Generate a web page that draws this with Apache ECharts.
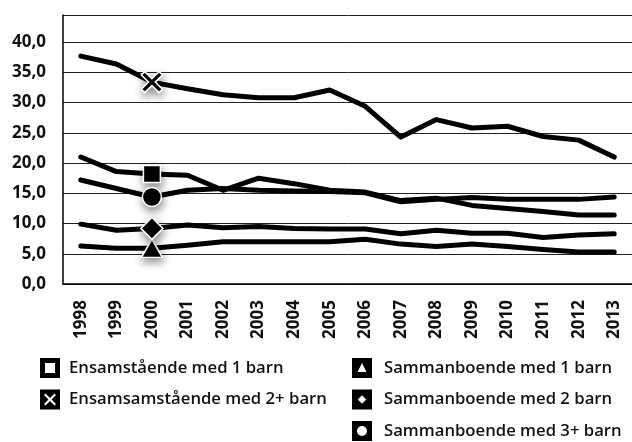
<!DOCTYPE html>
<html>
<head>
<meta charset="utf-8">
<script src="https://cdn.jsdelivr.net/npm/echarts@6/dist/echarts.min.js"></script>
<style>
html,body{margin:0;padding:0;background:#fff;}
#chart{width:632px;height:442px;}
</style>
</head>
<body>
<div id="chart"></div>
<script>
// ---- data ----
var years = ['1998','1999','2000','2001','2002','2003','2004','2005','2006','2007','2008','2009','2010','2011','2012','2013'];
var seriesNames = ['Ensamstående med 1 barn','Ensamsamstående med 2+ barn','Sammanboende med 1 barn','Sammanboende med 2 barn','Sammanboende med 3+ barn'];
var ens1 = [21.0, 18.6, 18.2, 18.0, 15.5, 17.5, 16.6, 15.5, 15.2, 13.8, 14.2, 13.0, 12.5, 12.0, 11.4, 11.4];
var ens2 = [37.7, 36.4, 33.4, 32.3, 31.3, 30.8, 30.8, 32.1, 29.4, 24.3, 27.2, 25.8, 26.1, 24.4, 23.8, 21.0];
var sam1 = [6.3, 5.9, 5.9, 6.4, 7.0, 7.0, 7.0, 7.0, 7.4, 6.6, 6.2, 6.6, 6.2, 5.7, 5.3, 5.3];
var sam2 = [9.9, 8.9, 9.2, 9.75, 9.3, 9.5, 9.2, 9.1, 9.1, 8.3, 8.9, 8.4, 8.4, 7.7, 8.1, 8.3];
var sam3 = [17.2, 15.8, 14.4, 15.5, 15.8, 15.5, 15.4, 15.3, 15.1, 13.6, 14.0, 14.3, 14.0, 14.0, 14.0, 14.4];
var markerIndex = 2; // markers shown at year 2000

// ---- styles ----
var xPath = 'path://M0,3.2 L3.2,0 L10,6.8 L16.8,0 L20,3.2 L13.2,10 L20,16.8 L16.8,20 L10,13.2 L3.2,20 L0,16.8 L6.8,10 Z';
var markers = [
  {symbol:'rect', size:[17,17]},
  {symbol:xPath, size:[21,21]},
  {symbol:'triangle', size:[21,18]},
  {symbol:'diamond', size:[22,22]},
  {symbol:'circle', size:[19,19]}
];
var box = 'M0,0 H20 V20 H0 Z ';
var legendIcons = [
  'path://' + box + 'M5,5 V15 H15 V5 Z',
  'path://' + box + 'M4,5.5 L8.5,10 L4,14.5 L5.5,16 L10,11.5 L14.5,16 L16,14.5 L11.5,10 L16,5.5 L14.5,4 L10,8.5 L5.5,4 Z',
  'path://' + box + 'M10,5 L5.5,14 L14.5,14 Z',
  'path://' + box + 'M10,5.8 L5.8,10 L10,14.2 L14.2,10 Z',
  'path://' + box + 'M15,10 A5,5 0 1,0 5,10 A5,5 0 1,0 15,10 Z'
];
var allData = [ens1, ens2, sam1, sam2, sam3];

function buildSeries(i){
  var d = allData[i].map(function(v, k){
    if (k === markerIndex) {
      return {value: v, symbol: markers[i].symbol, symbolSize: markers[i].size,
        itemStyle: {color:'#000', borderColor:'#fff', borderWidth:1.5,
          shadowBlur:8, shadowColor:'rgba(0,0,0,0.45)', shadowOffsetX:1, shadowOffsetY:4}};
    }
    return {value: v, symbol: 'none'};
  });
  return {
    name: seriesNames[i], type:'line', data: d, showSymbol: true, symbol:'none',
    lineStyle:{color:'#000', width:5, join:'round', cap:'round'},
    itemStyle:{color:'#000'},
    z: 2, animation:false, silent:true,
    emphasis:{disabled:true}
  };
}

var textFont = '"Open Sans", "DejaVu Sans", sans-serif';
var chart = echarts.init(document.getElementById('chart'), null, {renderer:'canvas'});
chart.setOption({
  animation:false,
  backgroundColor:'#fff',
  grid:{left:63, top:15, width:579.2, height:269, containLabel:false},
  xAxis:{
    type:'category', data: years, boundaryGap:true,
    axisLine:{show:true, lineStyle:{color:'#000', width:1.5}},
    axisTick:{show:false},
    axisLabel:{rotate:90, margin:16, color:'#111', fontSize:17, fontWeight:'bold', fontFamily:textFont, interval:0}
  },
  yAxis:{
    type:'value', min:0, max:44.5, interval:5,
    axisLine:{show:true, lineStyle:{color:'#000', width:1.5}},
    axisTick:{show:false},
    splitLine:{show:true, lineStyle:{color:'#222', width:1}},
    axisLabel:{margin:17, color:'#111', fontSize:17, fontWeight:'bold', fontFamily:textFont, showMaxLabel:false,
      formatter:function(v){ return v.toFixed(1).replace('.', ','); }}
  },
  legend:[
    {
      orient:'vertical', left:40, top:358, height:120, padding:0, itemWidth:20, itemHeight:20, itemGap:11.5,
      selectedMode:false, symbolKeepAspect:true,
      itemStyle:{borderWidth:0, color:'#000', shadowBlur:0},
      textStyle:{fontSize:16.7, fontWeight:600, color:'#111', fontFamily:textFont, padding:[0,0,0,4]},
      data:[{name:seriesNames[0], icon:legendIcons[0]},{name:seriesNames[1], icon:legendIcons[1]}]
    },
    {
      orient:'vertical', left:352, top:358, height:120, padding:0, itemWidth:20, itemHeight:20, itemGap:11.5,
      selectedMode:false, symbolKeepAspect:true,
      itemStyle:{borderWidth:0, color:'#000', shadowBlur:0},
      textStyle:{fontSize:16.7, fontWeight:600, color:'#111', fontFamily:textFont, padding:[0,0,0,7]},
      data:[{name:seriesNames[2], icon:legendIcons[2]},{name:seriesNames[3], icon:legendIcons[3]},{name:seriesNames[4], icon:legendIcons[4]}]
    }
  ],
  series:[0,1,2,3,4].map(buildSeries)
});
</script>
</body>
</html>
